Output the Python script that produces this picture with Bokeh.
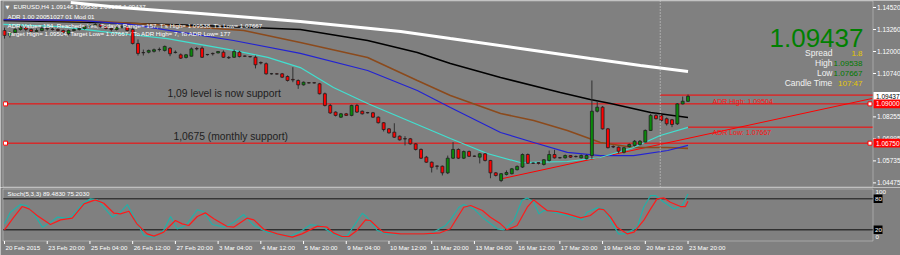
from bokeh.plotting import figure
from bokeh.layouts import column
from bokeh.models import Range1d, Label, Span, ColumnDataSource, BoxAnnotation
from bokeh.core.properties import value
from bokeh.embed import file_html
from bokeh.resources import INLINE

# ---------------- data (EURUSD H4) ----------------
time_tick_bars = [0, 8, 16, 24, 32, 40, 48, 56, 64, 72, 80, 88, 96, 104, 112, 120, 128]
time_labels = ["20 Feb 2015", "23 Feb 20:00", "25 Feb 04:00", "26 Feb 12:00", "27 Feb 20:00",
               "3 Mar 04:00", "4 Mar 12:00", "5 Mar 20:00", "9 Mar 04:00", "10 Mar 12:00",
               "11 Mar 20:00", "13 Mar 04:00", "16 Mar 12:00", "17 Mar 20:00", "19 Mar 04:00",
               "20 Mar 12:00", "23 Mar 20:00"]

opens = [1.1320, 1.1292, 1.1309, 1.1326, 1.1337, 1.1326, 1.1315, 1.1320, 1.1332, 1.1329,
         1.1326, 1.1320, 1.1303, 1.1320, 1.1326, 1.1332, 1.1343, 1.1349, 1.1355, 1.1343,
         1.1332, 1.1326, 1.1337, 1.1343, 1.1326, 1.1246, 1.1194, 1.1196, 1.1201, 1.1211,
         1.1206, 1.1219, 1.1194, 1.1181, 1.1166, 1.1173, 1.1217, 1.1219, 1.1183, 1.1189,
         1.1192, 1.1196, 1.1166, 1.1167, 1.1196, 1.1174, 1.1171, 1.1167, 1.1137, 1.1130,
         1.1073, 1.1072, 1.1072, 1.1057, 1.1040, 1.1034, 1.1009, 1.1021, 1.1021, 1.1015,
         1.0958, 1.0891, 1.0853, 1.0824, 1.0843, 1.0834, 1.0891, 1.0858, 1.0850, 1.0849,
         1.0824, 1.0792, 1.0757, 1.0738, 1.0715, 1.0701, 1.0700, 1.0671, 1.0639, 1.0595,
         1.0566, 1.0544, 1.0543, 1.0505, 1.0589, 1.0639, 1.0589, 1.0627, 1.0601, 1.0595,
         1.0614, 1.0576, 1.0505, 1.0461, 1.0496, 1.0500, 1.0523, 1.0538, 1.0610, 1.0561,
         1.0564, 1.0553, 1.0576, 1.0610, 1.0592, 1.0591, 1.0604, 1.0599, 1.0591, 1.0586,
         1.0604, 1.0858, 1.0881, 1.0757, 1.0656, 1.0652, 1.0623, 1.0656, 1.0662, 1.0667,
         1.0681, 1.0748, 1.0834, 1.0834, 1.0815, 1.0809, 1.0786, 1.0900, 1.09146]
highs = [1.1337, 1.1315, 1.1337, 1.1349, 1.1343, 1.1332, 1.1332, 1.1343, 1.1343, 1.1337,
         1.1332, 1.1326, 1.1326, 1.1332, 1.1337, 1.1349, 1.1360, 1.1366, 1.1360, 1.1349,
         1.1337, 1.1343, 1.1355, 1.1349, 1.1337, 1.1269, 1.1211, 1.1211, 1.1217, 1.1223,
         1.1234, 1.1225, 1.1206, 1.1189, 1.1186, 1.1223, 1.1226, 1.1229, 1.1186, 1.1194,
         1.1203, 1.1206, 1.1174, 1.1211, 1.1203, 1.1177, 1.1174, 1.1177, 1.1143, 1.1137,
         1.1077, 1.1077, 1.1077, 1.1063, 1.1110, 1.1040, 1.1028, 1.1025, 1.1025, 1.1020,
         1.0965, 1.0900, 1.0857, 1.0848, 1.0848, 1.0895, 1.0900, 1.0862, 1.0854, 1.0854,
         1.0828, 1.0796, 1.0762, 1.0789, 1.0719, 1.0715, 1.0705, 1.0676, 1.0645, 1.0602,
         1.0570, 1.0547, 1.0547, 1.0604, 1.0681, 1.0645, 1.0633, 1.0633, 1.0604, 1.0619,
         1.0619, 1.0579, 1.0510, 1.0504, 1.0519, 1.0533, 1.0547, 1.0616, 1.0616, 1.0564,
         1.0566, 1.0584, 1.0633, 1.0637, 1.0596, 1.0610, 1.0607, 1.0604, 1.0610, 1.0610,
         1.1034, 1.0915, 1.0888, 1.0762, 1.0662, 1.0656, 1.0653, 1.0673, 1.0693, 1.0693,
         1.0753, 1.0842, 1.0853, 1.0842, 1.0822, 1.0814, 1.0905, 1.0942, 1.09538]
lows = [1.1274, 1.1280, 1.1303, 1.1320, 1.1315, 1.1309, 1.1303, 1.1315, 1.1320, 1.1320,
        1.1315, 1.1297, 1.1292, 1.1315, 1.1320, 1.1326, 1.1337, 1.1343, 1.1337, 1.1326,
        1.1315, 1.1320, 1.1332, 1.1315, 1.1240, 1.1177, 1.1177, 1.1189, 1.1194, 1.1200,
        1.1200, 1.1173, 1.1189, 1.1157, 1.1160, 1.1171, 1.1206, 1.1163, 1.1177, 1.1177,
        1.1189, 1.1163, 1.1157, 1.1163, 1.1166, 1.1169, 1.1166, 1.1103, 1.1126, 1.1068,
        1.1068, 1.1068, 1.1048, 1.1028, 1.1024, 1.0986, 1.1005, 1.1017, 1.1017, 1.0954,
        1.0885, 1.0843, 1.0828, 1.0819, 1.0831, 1.0829, 1.0848, 1.0839, 1.0845, 1.0819,
        1.0788, 1.0742, 1.0730, 1.0705, 1.0690, 1.0662, 1.0667, 1.0633, 1.0584, 1.0562,
        1.0507, 1.0524, 1.0490, 1.0498, 1.0584, 1.0584, 1.0584, 1.0596, 1.0596, 1.0559,
        1.0570, 1.0474, 1.0484, 1.0452, 1.0490, 1.0496, 1.0519, 1.0533, 1.0556, 1.0556,
        1.0553, 1.0547, 1.0570, 1.0587, 1.0587, 1.0587, 1.0590, 1.0593, 1.0587, 1.0582,
        1.0586, 1.0851, 1.0753, 1.0645, 1.0647, 1.0616, 1.0616, 1.0650, 1.0656, 1.0662,
        1.0679, 1.0745, 1.0811, 1.0799, 1.0776, 1.07667, 1.0779, 1.0897, 1.09107]
closes = [1.1292, 1.1309, 1.1326, 1.1337, 1.1326, 1.1315, 1.1320, 1.1332, 1.1329, 1.1326,
          1.1320, 1.1309, 1.1320, 1.1326, 1.1332, 1.1343, 1.1349, 1.1355, 1.1343, 1.1332,
          1.1326, 1.1337, 1.1343, 1.1320, 1.1246, 1.1189, 1.1193, 1.1206, 1.1210, 1.1212,
          1.1229, 1.1187, 1.1196, 1.1162, 1.1181, 1.1215, 1.1215, 1.1167, 1.1182, 1.1187,
          1.1200, 1.1167, 1.1164, 1.1200, 1.1171, 1.1173, 1.1170, 1.1124, 1.1134, 1.1072,
          1.1072, 1.1071, 1.1053, 1.1034, 1.1037, 1.1009, 1.1024, 1.1020, 1.1020, 1.0958,
          1.0891, 1.0848, 1.0834, 1.0843, 1.0834, 1.0891, 1.0853, 1.0843, 1.0849, 1.0824,
          1.0792, 1.0753, 1.0734, 1.0709, 1.0694, 1.0699, 1.0671, 1.0639, 1.0589, 1.0566,
          1.0537, 1.0543, 1.0505, 1.0589, 1.0639, 1.0589, 1.0627, 1.0600, 1.0600, 1.0614,
          1.0576, 1.0505, 1.0490, 1.0500, 1.0507, 1.0528, 1.0542, 1.0610, 1.0560, 1.0560,
          1.0559, 1.0580, 1.0610, 1.0591, 1.0591, 1.0604, 1.0595, 1.0598, 1.0604, 1.0604,
          1.0858, 1.0881, 1.0757, 1.0649, 1.0653, 1.0629, 1.0649, 1.0667, 1.0686, 1.0686,
          1.0748, 1.0834, 1.0815, 1.0805, 1.0786, 1.0782, 1.0900, 1.0915, 1.09437]

# moving averages (bar position, price)
ma_white_x = [12.4, 21.7, 36.7, 55.4, 74.2, 83.5, 96.6, 109.7, 119.1, 128.0]
ma_white_p = [1.1481, 1.1452, 1.1418, 1.1372, 1.1315, 1.1274, 1.1217, 1.1160, 1.1120, 1.1085]
ma_black_x = [-0.2, 18.0, 36.7, 55.4, 68.0, 77.3, 83.5, 92.9, 104.1, 109.7, 113.5, 121.0, 128.0]
ma_black_p = [1.1378, 1.1366, 1.1349, 1.1326, 1.1263, 1.1194, 1.1131, 1.1051, 1.0965, 1.0925,
              1.0902, 1.0851, 1.0822]
ma_brown_x = [-0.2, 18.0, 31.1, 44.8, 55.4, 68.0, 77.3, 83.5, 92.9, 99.1, 105.4, 111.6, 117.8,
              124.2, 128.0]
ma_brown_p = [1.1383, 1.1372, 1.1349, 1.1320, 1.1252, 1.1166, 1.1034, 1.0948, 1.0845, 1.0805,
              1.0748, 1.0679, 1.0650, 1.0650, 1.0645]
ma_blue_x = [-0.2, 14.2, 23.6, 31.1, 42.9, 55.4, 68.0, 77.3, 83.5, 92.9, 99.1, 105.4, 111.6,
             117.8, 124.2, 128.0]
ma_blue_p = [1.1383, 1.1378, 1.1355, 1.1320, 1.1263, 1.1189, 1.1091, 1.0977, 1.0879, 1.0736,
             1.0679, 1.0622, 1.0604, 1.0604, 1.0633, 1.0662]
ma_cyan_x = [-0.2, 10.5, 18.0, 21.7, 30.5, 42.9, 49.3, 55.4, 61.6, 68.0, 74.2, 83.5, 90.4,
             96.6, 105.4, 111.6, 117.8, 122.8, 128.0]
ma_cyan_p = [1.1355, 1.1343, 1.1315, 1.1303, 1.1274, 1.1206, 1.1166, 1.1108, 1.0994, 1.0902,
             1.0822, 1.0702, 1.0616, 1.0564, 1.0570, 1.0593, 1.0650, 1.0719, 1.0765]

# horizontal levels, ADR lines, trend line
level_prices = [1.0900, 1.0675]
adr_high, adr_low = 1.09504, 1.07667
adr_high_from, adr_low_from = 122.8, 128.0
trend_x = [92.9, 162.5]
trend_p = [1.0470, 1.0931]
vline_bar = 122.8

price_ticks = [1.14520, 1.13260, 1.12000, 1.10740, 1.08255, 1.06995, 1.05735, 1.04475]
last_price = 1.09437

# stochastic (5,3,3)
stoch_main_x = [0, 1.1, 3.0, 4.2, 5.5, 7.1, 8.6, 9.9, 11.7, 12.6, 14.6, 16.1, 17.4, 20.2, 21.7,
                23.0, 23.9, 26.1, 28.0, 29.8, 31.1, 32.3, 33.3, 34.2, 36.1, 37.3, 38.9, 41.1,
                42.9, 44.8, 46.7, 49.2, 53.6, 55.7, 57.3, 59.2, 61.0, 62.9, 64.2, 65.7, 67.0,
                67.9, 69.8, 71.7, 76.0, 79.8, 82.6, 83.5, 85.1, 86.0, 87.9, 89.8, 92.3, 93.5,
                95.4, 96.9, 97.9, 99.1, 100.1, 101.0, 102.2, 104.1, 106.6, 108.2, 109.1, 111.0,
                112.2, 113.5, 115.0, 116.3, 118.5, 119.7, 121.0, 121.9, 123.5, 125.4, 126.9, 128.0]
stoch_main_v = [31.5, 54.1, 68.9, 67.0, 50.8, 25.0, 34.7, 44.4, 42.5, 46.0, 70.2, 79.9, 77.9,
                44.4, 54.1, 68.9, 50.8, 8.9, 5.7, 18.6, 45.7, 21.8, 25.0, 31.5, 58.6, 55.4,
                30.2, 25.0, 34.7, 49.5, 28.3, 15.4, 7.6, 18.6, 29.5, 28.3, 15.4, 5.7, 8.9,
                31.5, 52.1, 44.4, 18.6, 12.1, 12.1, 12.1, 28.3, 39.2, 63.7, 68.9, 60.5, 41.2,
                21.8, 19.9, 38.0, 76.6, 81.8, 73.4, 50.8, 57.3, 55.4, 50.8, 44.4, 39.2, 54.1,
                62.5, 60.5, 38.0, 12.1, 12.1, 25.0, 63.7, 86.3, 86.3, 73.4, 60.5, 67.0, 89.5]
stoch_sig_x = [0, 1.75, 3.3, 4.6, 6.1, 8.6, 10.5, 12.7, 14.9, 17.0, 18.6, 20.5, 21.7, 23.3, 24.8,
               26.7, 28.0, 29.8, 32.0, 33.3, 34.5, 36.1, 37.6, 39.2, 41.7, 42.9, 45.4, 46.7,
               48.6, 51.1, 53.9, 55.7, 58.6, 60.4, 61.7, 63.2, 64.5, 66.0, 67.6, 68.5, 69.8,
               71.0, 74.2, 78.5, 81.6, 83.5, 86.0, 87.3, 89.5, 91.0, 92.9, 94.1, 96.0, 97.9,
               99.1, 100.4, 101.6, 103.5, 105.4, 107.9, 109.7, 111.3, 112.2, 113.5, 114.7,
               116.6, 117.9, 119.7, 121.0, 122.2, 123.5, 124.7, 126.6, 127.5, 128.0]
stoch_sig_v = [19.9, 44.4, 65.0, 60.5, 47.6, 30.2, 39.2, 42.5, 70.2, 77.9, 71.5, 52.1, 50.8,
               56.0, 31.5, 12.1, 7.6, 15.4, 38.0, 31.5, 28.3, 45.7, 52.8, 41.2, 26.3, 25.0,
               42.5, 39.2, 20.5, 12.1, 5.7, 12.1, 27.0, 25.0, 13.4, 7.0, 7.0, 18.6, 39.2, 38.0,
               25.0, 15.4, 12.1, 12.1, 14.1, 22.0, 63.7, 67.0, 57.3, 44.4, 31.5, 19.9, 28.3,
               63.7, 77.9, 67.0, 57.3, 55.4, 50.8, 43.1, 47.6, 60.5, 59.2, 44.4, 25.0, 12.1,
               15.4, 38.0, 60.5, 79.9, 81.8, 73.4, 65.0, 65.0, 75.2]
stoch_levels = [80, 20]

# ---------------- layout / style ----------------
BG = "#808080"
FONT = "Liberation Sans"
PX_PER_BAR = 5.34          # horizontal spacing of the bars
P_TOP, P_PER_PX = 1.14921, 0.00057274   # price at the top row, price per pixel row
V_PER_PX = 100.8 / 52                   # stochastic units per pixel row
MAIN_H, ST_H = 187, 68


def px_x(px):                      # page column -> bar position
    return (px - 4) / PX_PER_BAR


def py_main(py):                   # page row -> price
    return P_TOP - py * P_PER_PX


def py_st(py):                     # page row -> stochastic value
    return 100 - (py - 188) * V_PER_PX


XL, XR = px_x(2.5), px_x(872.5)    # panel borders
xr = Range1d(px_x(0), px_x(900))


def make_fig(height, yrange):
    f = figure(width=900, height=height, x_range=xr, y_range=yrange,
               output_backend="svg", toolbar_location=None,
               x_axis_location=None, y_axis_location=None,
               min_border=0, background_fill_color=BG, border_fill_color=BG,
               outline_line_color=None)
    f.xgrid.grid_line_color = None
    f.ygrid.grid_line_color = None
    return f


def lab(fig, x, y, text, size, color, align="left", font=FONT, **kw):
    fig.add_layout(Label(x=x, y=y, text=text, text_font=font, text_font_size=size,
                         text_color=color, text_align=align, text_baseline="middle", **kw))


main = make_fig(MAIN_H, Range1d(py_main(MAIN_H), py_main(0)))

bars = list(range(len(opens)))
src = ColumnDataSource(dict(
    x=bars, h=highs, l=lows,
    top=[max(o, c) for o, c in zip(opens, closes)],
    bottom=[min(o, c) for o, c in zip(opens, closes)],
    color=["#0a8a0a" if c > o else ("#ff0000" if c < o else "#202020")
           for o, c in zip(opens, closes)]))

# red levels, ADR lines, trend line, vertical marker
n_lv = len(level_prices)
main.segment(x0=[XL] * n_lv, y0=level_prices, x1=[XR] * n_lv, y1=level_prices,
             line_color="#ff0000", line_width=1)
main.segment(x0=[adr_high_from, adr_low_from], y0=[adr_high, adr_low],
             x1=[XR, XR], y1=[adr_high, adr_low], line_color="#ff0000", line_width=1)
main.line(trend_x, trend_p, line_color="#ff0000", line_width=1)
main.add_layout(Span(location=vline_bar, dimension="height", line_color="#d8d8d8",
                     line_width=1, line_dash="1 2"))

# moving averages
main.line(ma_white_x, ma_white_p, line_color="white", line_width=3)
main.line(ma_black_x, ma_black_p, line_color="#000000", line_width=1.6)
main.line(ma_brown_x, ma_brown_p, line_color="#8b4a1c", line_width=1.6)
main.line(ma_blue_x, ma_blue_p, line_color="#2323d2", line_width=1.2)
main.line(ma_cyan_x, ma_cyan_p, line_color="#40e0d0", line_width=1.2)

# candles
main.segment(x0="x", y0="h", x1="x", y1="l", source=src, line_color="#303030", line_width=1)
main.vbar(x="x", width=0.55, top="top", bottom="bottom", source=src,
          fill_color="color", line_color="#202020", line_width=0.8)

# handles of the selected horizontal lines
main.scatter(x=[px_x(5)] * n_lv + [px_x(869.5)] * n_lv, y=level_prices + level_prices,
             marker="square", size=4, fill_color="white", line_color="#ff0000", line_width=1)

# panel border and price scale
main.add_layout(BoxAnnotation(left=XL, right=XR, top=py_main(0.5), bottom=py_main(186.5),
                              fill_color=None, line_color="white", line_width=1))
nt = len(price_ticks)
main.segment(x0=[XR] * nt, y0=price_ticks, x1=[px_x(875.5)] * nt, y1=price_ticks,
             line_color="white", line_width=1)
main.text(x=[px_x(876.5)] * nt, y=price_ticks, text=["%.5f" % t for t in price_ticks],
          text_font=value(FONT), text_font_size="6.5px", text_color="white",
          text_align="left", text_baseline="middle")

# price boxes on the scale (current price, level lines)
box_prices = [last_price] + level_prices
box_fill = ["white"] + ["#ff0000"] * n_lv
box_text = ["black"] + ["white"] * n_lv
half_box = 4.3 * P_PER_PX
main.quad(left=[px_x(873)] * len(box_prices), right=[px_x(899.5)] * len(box_prices),
          top=[p + half_box for p in box_prices], bottom=[p - half_box for p in box_prices],
          fill_color=box_fill, line_color=None)
main.text(x=[px_x(875.5)] * len(box_prices), y=box_prices,
          text=["%.5f" % p for p in box_prices], text_color=box_text,
          text_font=value(FONT), text_font_size="6.5px",
          text_align="left", text_baseline="middle")

# header texts
lab(main, px_x(5), py_main(6), "\u25bc", "5px", "white", font="DejaVu Sans")
lab(main, px_x(13), py_main(6), "EURUSD,H4 1.09146 1.09538 1.09107 1.09437", "6.2px", "white")
lab(main, px_x(7), py_main(16), "ADR 1.00 20051027 01 Mod 01", "6.2px", "white")
lab(main, px_x(7), py_main(24.5),
    "ADR Value= 184, Reached= Yes, Today's Range= 157, T's High= 1.09538, T's Low= 1.07667",
    "6.2px", "white")
lab(main, px_x(7), py_main(33),
    "Target High= 1.09504, Target Low= 1.07667 / To ADR High= 7, To ADR Low= 177",
    "6.2px", "white")

# annotations
lab(main, px_x(167), py_main(93.3), "1,09 level is now support", "10.3px", "#1e1e1e")
lab(main, px_x(173), py_main(135.5), "1,0675 (monthly support)", "10.3px", "#1e1e1e")
lab(main, px_x(712), py_main(100.7), "ADR High: 1.09504", "7px", "#ff1010")
lab(main, px_x(712), py_main(132), "ADR Low: 1.07667", "7px", "#ff1010")

# info panel
lab(main, px_x(863), py_main(37), "1.09437", "26px", "#008000", align="right")
info_rows = [("Spread", "1.8", "#e6c800"), ("High", "1.09538", "#007a00"),
             ("Low", "1.07667", "#007a00"), ("Candle Time", "107:47", "#e6c800")]
for k, (name, val, col) in enumerate(info_rows):
    yy = py_main(52.7 + 10 * k)
    lab(main, px_x(832), yy, name, "8.5px", "#f2f2f2", align="right")
    lab(main, px_x(862), yy, val, "8px", col, align="right")

# ---------------- stochastic panel ----------------
st = make_fig(ST_H, Range1d(py_st(MAIN_H + ST_H), py_st(MAIN_H)))

st.segment(x0=[XL], y0=[stoch_levels[0]], x1=[XR], y1=[stoch_levels[0]],
           line_color="#151515", line_width=1)
st.segment(x0=[XL], y0=[stoch_levels[1]], x1=[XR], y1=[stoch_levels[1]],
           line_color="#303030", line_width=1.5)
st.line(stoch_main_x, stoch_main_v, line_color="#22b0a8", line_width=1.2)
st.line(stoch_sig_x, stoch_sig_v, line_color="#ff1a1a", line_width=1.2)
st.add_layout(BoxAnnotation(left=XL, right=XR, top=py_st(188.5), bottom=py_st(240.5),
                            fill_color=None, line_color="white", line_width=1))

lab(st, px_x(7), py_st(193.3), "Stoch(5,3,3) 89.4830 75.2030", "6.2px", "white")
lab(st, px_x(875), py_st(191.8), "100", "6.2px", "white")
lab(st, px_x(875), py_st(236.3), "0", "6.2px", "white")
half_sbox = 4.3 * V_PER_PX
st.quad(left=[px_x(873)] * 2, right=[px_x(882)] * 2,
        top=[v + half_sbox for v in stoch_levels], bottom=[v - half_sbox for v in stoch_levels],
        fill_color="#000000", line_color=None)
st.text(x=[px_x(874.5)] * 2, y=stoch_levels, text=[str(v) for v in stoch_levels],
        text_font=value(FONT), text_font_size="6.2px", text_color="white",
        text_align="left", text_baseline="middle")

# time scale
ntk = len(time_tick_bars)
st.segment(x0=time_tick_bars, y0=[py_st(240.5)] * ntk, x1=time_tick_bars,
           y1=[py_st(243.5)] * ntk, line_color="white", line_width=1)
st.text(x=time_tick_bars, y=[py_st(247.3)] * ntk, text=time_labels, x_offset=1,
        text_font=value(FONT), text_font_size="6.2px", text_color="white",
        text_align="left", text_baseline="middle")

layout = column(main, st)
html = file_html(layout, INLINE)
open("out.html", "w").write(html)
